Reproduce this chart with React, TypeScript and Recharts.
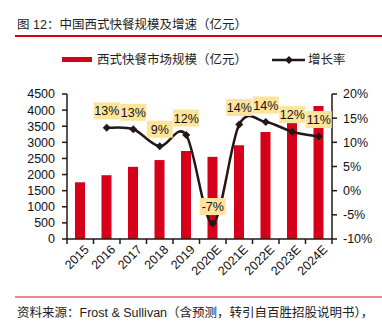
import { ComposedChart, Bar, Line, XAxis, YAxis, LabelList } from 'recharts';

const years = ['2015', '2016', '2017', '2018', '2019', '2020E', '2021E', '2022E', '2023E', '2024E'];
const marketSize = [1760, 1980, 2240, 2450, 2730, 2550, 2910, 3320, 3720, 4130];
const growthRate = [null, 13.0, 12.7, 9.2, 11.5, -6.8, 13.7, 14.2, 12.2, 11.2];
const leftTicks = [0, 500, 1000, 1500, 2000, 2500, 3000, 3500, 4000, 4500];
const rightTicks = [-10, -5, 0, 5, 10, 15, 20];

const data = years.map((year, i) => ({ year, size: marketSize[i], growth: growthRate[i] }));

const RED = '#d7001a';
const DARK = '#231815';
const FONT = '"Liberation Sans", Arial, "Noto Sans CJK SC", sans-serif';

// plot area in page pixels
const PLOT_LEFT = 67;
const PLOT_RIGHT = 332;
const BAND = (PLOT_RIGHT - PLOT_LEFT) / years.length;

// catmull-rom style smoothing (like Excel's smoothed line)
const smoothCurve = (context: any) => {
  let pts: number[][] = [];
  return {
    areaStart() {},
    areaEnd() {},
    lineStart() {
      pts = [];
    },
    point(x: number, y: number) {
      pts.push([+x, +y]);
    },
    lineEnd() {
      if (!pts.length) return;
      context.moveTo(pts[0][0], pts[0][1]);
      for (let i = 0; i < pts.length - 1; i++) {
        const p0 = pts[i - 1] || pts[i];
        const p1 = pts[i];
        const p2 = pts[i + 1];
        const p3 = pts[i + 2] || p2;
        context.bezierCurveTo(
          p1[0] + (p2[0] - p0[0]) / 6,
          p1[1] + (p2[1] - p0[1]) / 6,
          p2[0] - (p3[0] - p1[0]) / 6,
          p2[1] - (p3[1] - p1[1]) / 6,
          p2[0],
          p2[1]
        );
      }
    },
  };
};

const XTick = (props: any) => {
  const { x, y, payload, index } = props;
  const axisY = y - 5;
  return (
    <g>
      <line x1={x - BAND / 2} y1={axisY} x2={x - BAND / 2} y2={axisY + 5} stroke={DARK} strokeWidth={1.5} />
      {index === years.length - 1 && (
        <line x1={x + BAND / 2} y1={axisY} x2={x + BAND / 2} y2={axisY + 5} stroke={DARK} strokeWidth={1.5} />
      )}
      <text
        x={0}
        y={0}
        dy={9}
        textAnchor="end"
        fontSize={12.5}
        fill="#111"
        fontFamily={FONT}
        transform={`translate(${x + 3},${y}) rotate(-45)`}
      >
        {payload.value}
      </text>
    </g>
  );
};

const Diamond = (props: any) => {
  const { cx, cy, value } = props;
  if (value == null || cx == null) return null;
  const r = 4;
  return <path d={`M${cx},${cy - r}L${cx + r},${cy}L${cx},${cy + r}L${cx - r},${cy}Z`} fill={DARK} />;
};

const RateLabel = (props: any) => {
  const { x, y, value } = props;
  if (value == null) return null;
  const text = `${Math.round(value)}%`;
  const w = text.length > 3 ? 29 : 26;
  const h = 17;
  const cy = y - 17;
  return (
    <g>
      <rect x={x - w / 2} y={cy - h / 2} width={w} height={h} fill="#fde49b" />
      <text x={x} y={cy} dy={4.5} textAnchor="middle" fontSize={12.5} fill="#111" fontFamily={FONT}>
        {text}
      </text>
    </g>
  );
};

export default function App() {
  return (
    <div style={{ position: 'absolute', left: 0, top: 0, width: 382, height: 325, background: '#fff', fontFamily: FONT }}>
      <div style={{ position: 'absolute', left: 17, top: 17, fontSize: 12.5, color: '#222', whiteSpace: 'nowrap', lineHeight: '16px' }}>
        图 12：中国西式快餐规模及增速（亿元）
      </div>
      <div style={{ position: 'absolute', left: 15, top: 35, width: 367, height: 1.5, background: RED }} />

      {/* legend */}
      <div style={{ position: 'absolute', left: 62, top: 57, width: 30, height: 5, background: RED }} />
      <div style={{ position: 'absolute', left: 97, top: 52, fontSize: 12.5, color: '#222', whiteSpace: 'nowrap', lineHeight: '16px' }}>
        西式快餐市场规模（亿元）
      </div>
      <svg style={{ position: 'absolute', left: 272, top: 55 }} width={33} height={10}>
        <line x1={0} y1={5} x2={33} y2={5} stroke={DARK} strokeWidth={2.5} />
        <path d="M17,1L21,5L17,9L13,5Z" fill={DARK} />
      </svg>
      <div style={{ position: 'absolute', left: 308, top: 52, fontSize: 12.5, color: '#222', whiteSpace: 'nowrap', lineHeight: '16px' }}>
        增长率
      </div>

      <div style={{ position: 'absolute', left: 0, top: 0 }}>
        <ComposedChart
          width={382}
          height={325}
          data={data}
          margin={{ top: 94, right: 0, bottom: 86 - 40, left: 17 }}
          barCategoryGap={0}
        >
          <XAxis
            dataKey="year"
            xAxisId="x"
            interval={0}
            height={40}
            tickSize={5}
            tickMargin={0}
            tickLine={false}
            axisLine={{ stroke: DARK, strokeWidth: 1.5 }}
            tick={<XTick />}
          />
          <YAxis
            yAxisId="left"
            width={50}
            domain={[0, 4500]}
            ticks={leftTicks}
            interval={0}
            tickSize={5}
            tickMargin={7}
            axisLine={{ stroke: DARK, strokeWidth: 1.5 }}
            tickLine={{ stroke: DARK, strokeWidth: 1.5 }}
            tick={{ fontSize: 12.5, fill: '#111', fontFamily: FONT }}
          />
          <YAxis
            yAxisId="right"
            orientation="right"
            width={50}
            domain={[-10, 20]}
            ticks={rightTicks}
            interval={0}
            tickSize={5}
            tickMargin={6}
            tickFormatter={(v: number) => `${v}%`}
            axisLine={{ stroke: DARK, strokeWidth: 1.5 }}
            tickLine={{ stroke: DARK, strokeWidth: 1.5 }}
            tick={{ fontSize: 12.5, fill: '#111', fontFamily: FONT, textAnchor: 'start' }}
          />
          <Bar dataKey="size" xAxisId="x" yAxisId="left" fill={RED} barSize={10} isAnimationActive={false} />
          <Line
            dataKey="growth"
            xAxisId="x"
            yAxisId="right"
            type={smoothCurve as any}
            stroke={DARK}
            strokeWidth={2.5}
            dot={<Diamond />}
            activeDot={false}
            isAnimationActive={false}
          >
            <LabelList dataKey="growth" content={<RateLabel />} />
          </Line>
        </ComposedChart>
      </div>

      <div style={{ position: 'absolute', left: 15, top: 296, width: 367, height: 1.5, background: '#e88a8a' }} />
      <div style={{ position: 'absolute', left: 17, top: 305, fontSize: 12.5, color: '#222', whiteSpace: 'nowrap', lineHeight: '16px' }}>
        资料来源：Frost &amp; Sullivan（含预测，转引自百胜招股说明书），
      </div>
    </div>
  );
}
